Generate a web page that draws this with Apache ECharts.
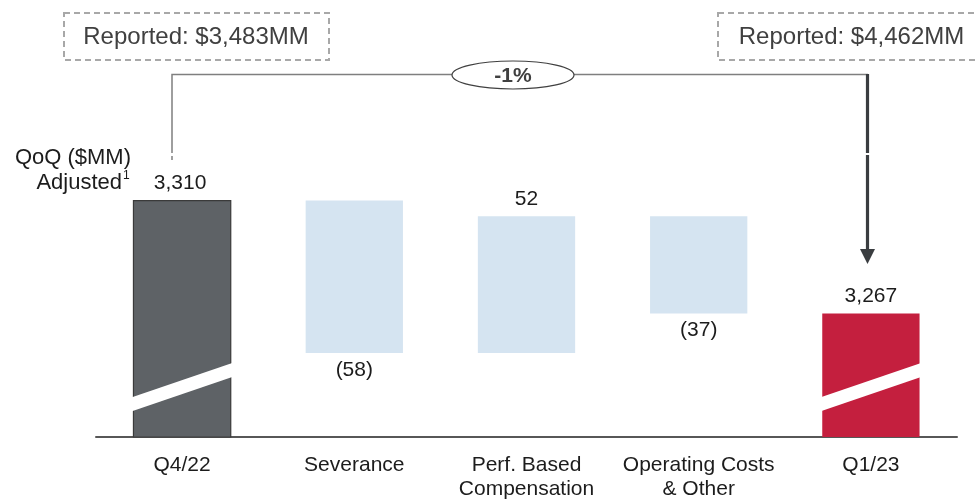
<!DOCTYPE html>
<html>
<head>
<meta charset="utf-8">
<script src="https://cdn.jsdelivr.net/npm/echarts@6/dist/echarts.min.js"></script>
<style>
  html, body { margin: 0; padding: 0; background: #fff; }
  #chart { width: 977px; height: 501px; }
</style>
</head>
<body>
<div id="chart"></div>
<script>
// Quarter-over-quarter adjusted expense bridge ($MM)
const categories = ['Q4/22', 'Severance', 'Perf. Based\nCompensation', 'Operating Costs\n& Other', 'Q1/23'];
const startValue = 3310;            // Q4/22 adjusted
const deltas = [-58, 52, -37];      // Severance, Perf. Based Comp., Operating Costs & Other
const endValue = 3267;              // Q1/23 adjusted
const reportedStart = 3483;         // Q4/22 reported
const reportedEnd = 4462;           // Q1/23 reported

// Value axis is truncated; the total bars carry a break mark at this level
const Y_MIN = 3220;
const Y_MAX = 3380;
const BREAK_VALUE = 3239;

const FONT = '"Liberation Sans", Arial, sans-serif';

// Build floating segments: [index, low, high, kind, value]
const segments = [];
segments.push([0, Y_MIN, startValue, 0, startValue]);
let running = startValue;
deltas.forEach((d, k) => {
  const next = running + d;
  segments.push([k + 1, Math.min(running, next), Math.max(running, next), 1, d]);
  running = next;
});
segments.push([categories.length - 1, Y_MIN, endValue, 2, endValue]);

const fills = ['#5e6266', '#d5e4f1', '#c41f3e'];
const strokes = ['#3a3a3a', null, null];

function fmt(v, kind) {
  if (kind === 1 && v < 0) return '(' + Math.abs(v) + ')';
  return v.toLocaleString('en-US');
}

const pct = Math.round((endValue - startValue) / startValue * 100);
const pctText = (pct > 0 ? '+' : '') + pct + '%';

const chart = echarts.init(document.getElementById('chart'), null, { renderer: 'canvas' });

chart.setOption({
  animation: false,
  grid: { left: 96, right: 20, top: 16.7, bottom: 63 },
  xAxis: {
    type: 'category',
    data: categories,
    axisLine: { show: true, lineStyle: { color: '#575757', width: 2 } },
    axisTick: { show: false },
    axisLabel: {
      color: '#1c1c1c', fontFamily: FONT, fontSize: 21, lineHeight: 24,
      margin: 16, interval: 0
    },
    splitLine: { show: false }
  },
  yAxis: {
    type: 'value', min: Y_MIN, max: Y_MAX, show: false,
    splitLine: { show: false }
  },
  series: [{
    type: 'custom',
    data: segments,
    clip: false,
    renderItem(params, api) {
      const i = api.value(0), lo = api.value(1), hi = api.value(2);
      const kind = api.value(3), v = api.value(4);
      const pTop = api.coord([i, hi]);
      const pBot = api.coord([i, lo]);
      const w = api.size([1, 0])[0] * 0.565;
      const x0 = pTop[0] - w / 2;
      const children = [{
        type: 'rect',
        shape: { x: x0, y: pTop[1], width: w, height: pBot[1] - pTop[1] },
        style: { fill: fills[kind], stroke: strokes[kind], lineWidth: strokes[kind] ? 1.2 : 0 }
      }];
      if (kind !== 1) {
        const yb = api.coord([i, BREAK_VALUE])[1];
        const rise = 17.2, half = 7;
        const xl = x0 - 1.5, xr = x0 + w + 1.5;
        children.push({
          type: 'polygon',
          shape: { points: [[xl, yb + rise - half], [xr, yb - rise - half], [xr, yb - rise + half], [xl, yb + rise + half]] },
          style: { fill: '#ffffff' }
        });
      }
      const below = kind === 1 && v < 0;
      children.push({
        type: 'text',
        style: {
          text: fmt(v, kind),
          x: pTop[0] - (kind === 0 ? 2 : 0),
          y: below ? pBot[1] + 17 : pTop[1] - 17,
          align: 'center', verticalAlign: 'middle',
          fill: '#1c1c1c', font: '21px ' + FONT
        }
      });
      return { type: 'group', children };
    }
  }],
  graphic: [
    // Reported figure boxes
    { type: 'rect', shape: { x: 64, y: 13, width: 265, height: 47 },
      style: { fill: 'none', stroke: '#a8a8a8', lineWidth: 2, lineDash: [6, 4] } },
    { type: 'text', style: { text: 'Reported: $' + reportedStart.toLocaleString('en-US') + 'MM',
      x: 196, y: 37, align: 'center', verticalAlign: 'middle', fill: '#404040', font: '24px ' + FONT } },
    { type: 'rect', shape: { x: 718, y: 13, width: 280, height: 47 },
      style: { fill: 'none', stroke: '#a8a8a8', lineWidth: 2, lineDash: [6, 4] } },
    { type: 'text', style: { text: 'Reported: $' + reportedEnd.toLocaleString('en-US') + 'MM',
      x: 851.5, y: 37, align: 'center', verticalAlign: 'middle', fill: '#404040', font: '24px ' + FONT } },

    // Connector from Q4/22 to Q1/23
    { type: 'polyline', shape: { points: [[172, 153], [172, 74.5], [868, 74.5]] },
      style: { stroke: '#7f7f7f', lineWidth: 1.5, fill: 'none' } },
    { type: 'line', shape: { x1: 172, y1: 156, x2: 172, y2: 160 },
      style: { stroke: '#7f7f7f', lineWidth: 1.5 } },
    { type: 'line', shape: { x1: 867.5, y1: 74, x2: 867.5, y2: 153 },
      style: { stroke: '#3a3d40', lineWidth: 3.2 } },
    { type: 'line', shape: { x1: 867.5, y1: 155, x2: 867.5, y2: 250 },
      style: { stroke: '#3a3d40', lineWidth: 3.2 } },
    { type: 'polygon', shape: { points: [[860, 249], [875, 249], [867.5, 264]] },
      style: { fill: '#3a3d40' } },
    { type: 'ellipse', shape: { cx: 513, cy: 75, rx: 61, ry: 14 },
      style: { fill: '#ffffff', stroke: '#404040', lineWidth: 1.2 } },
    { type: 'text', style: { text: pctText, x: 513, y: 76, align: 'center', verticalAlign: 'middle',
      fill: '#404040', font: 'bold 21px ' + FONT } },

    // Axis caption
    { type: 'text', style: { text: 'QoQ ($MM)', x: 131, y: 158, align: 'right', verticalAlign: 'middle',
      fill: '#1c1c1c', font: '22px ' + FONT } },
    { type: 'text', style: { text: 'Adjusted', x: 122, y: 183, align: 'right', verticalAlign: 'middle',
      fill: '#1c1c1c', font: '22px ' + FONT } },
    { type: 'text', style: { text: '1', x: 123, y: 176, align: 'left', verticalAlign: 'middle',
      fill: '#1c1c1c', font: '12px ' + FONT } }
  ]
});
</script>
</body>
</html>
